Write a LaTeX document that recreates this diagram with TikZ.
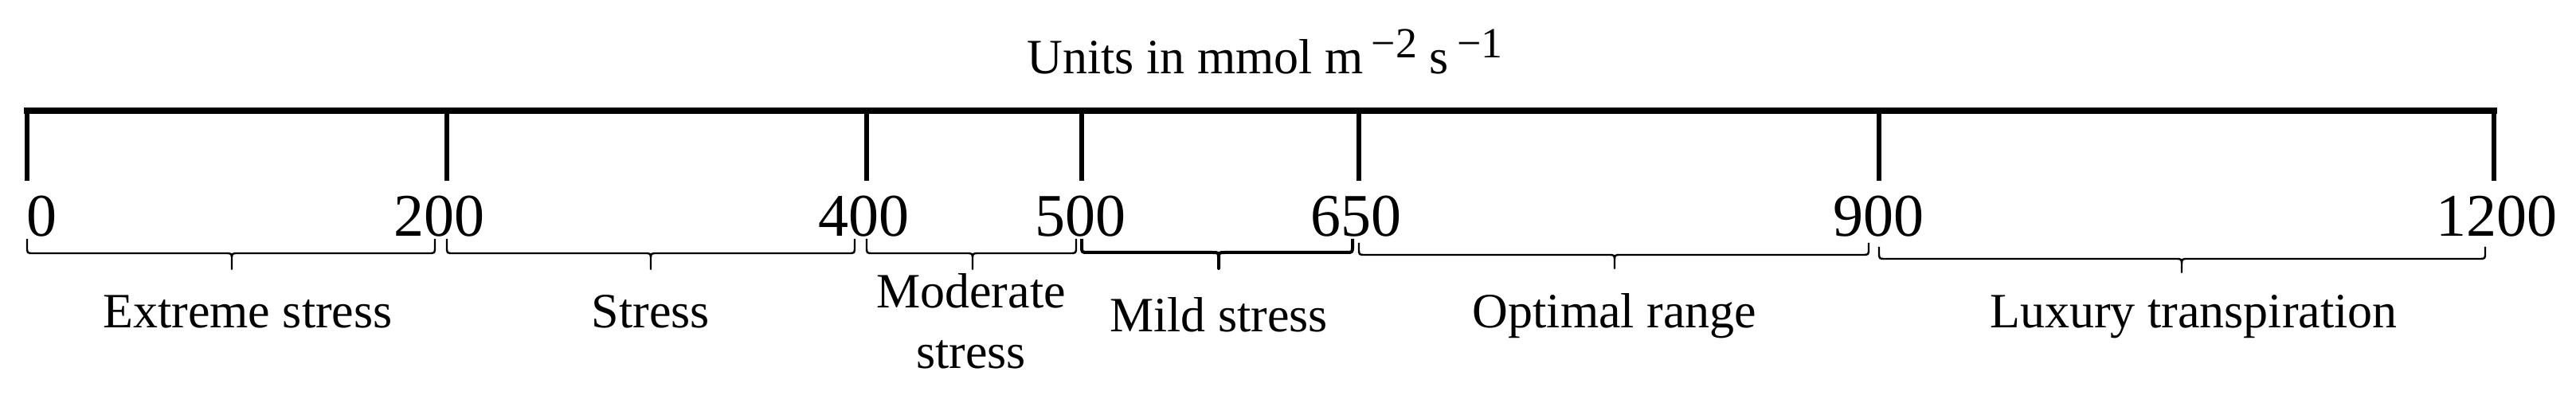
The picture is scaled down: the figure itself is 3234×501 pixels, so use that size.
\documentclass[tikz,border=0pt]{standalone}
\usepackage{fontspec}
\setmainfont{Liberation Serif}
\newcommand\scalebrace[7][]{%
  \draw[brc,#1] (#2,#5) -- (#2,#6-8) .. controls (#2,#6) .. (#2+8,#6)
    -- (#4-8,#6) .. controls (#4,#6) .. (#4,#6+8) -- (#4,#7)
    -- (#4,#6+8) .. controls (#4,#6) .. (#4+8,#6)
    -- (#3-8,#6) .. controls (#3,#6) .. (#3,#6-8) -- (#3,#5);}
\newcommand\bigsup[1]{\raisebox{5pt}{\fontsize{13.5}{14}\selectfont #1}}
\begin{document}
\begin{tikzpicture}[x=0.25pt,y=-0.25pt,
  bar/.style={line width=2pt},
  tickline/.style={line width=1.5pt},
  num/.style={font=\fontsize{19}{22}\selectfont, inner sep=0pt, anchor=base},
  lab/.style={font=\fontsize{15.5}{19}\selectfont, inner sep=0pt, anchor=base, align=center},
  brc/.style={line width=0.6pt, line join=round}]
\useasboundingbox (0,0) rectangle (3234,501);
% title
\node[lab] (title) at (1588,93) {Units in mmol m\,\bigsup{−2} s\,\bigsup{−1}};
% bar and ticks
\coordinate (t0) at (34,139);
\coordinate (t200) at (561,139);
\coordinate (t400) at (1088,139);
\coordinate (t500) at (1358,139);
\coordinate (t650) at (1706,139);
\coordinate (t900) at (2359,139);
\coordinate (t1200) at (3131,139);
\draw[bar] (30,139) -- (3135,139);
\foreach \t in {t0,t200,t400,t500,t650,t900,t1200}
  \draw[tickline] (\t) -- ++(0,88);
% numbers
\node[num, anchor=base west] (n0) at (33,297) {0};
\node[num] (n200) at (551,297) {200};
\node[num] (n400) at (1084,297) {400};
\node[num] (n500) at (1356,297) {500};
\node[num] (n650) at (1702,297) {650};
\node[num] (n900) at (2358,297) {900};
\node[num] (n1200) at (3134,297) {1200};
% braces
\scalebrace{34}{546}{291}{300}{318}{338}
\scalebrace{561}{1073}{817}{300}{318}{338}
\scalebrace{1088}{1351}{1221}{300}{318}{338}
\scalebrace[line width=1pt]{1358}{1698}{1530}{300}{317}{337}
\scalebrace{1706}{2346}{2027}{305}{320}{337}
\scalebrace{2359}{3120}{2739}{310}{325}{342}
% labels
\node[lab] (l1) at (311,412) {Extreme stress};
\node[lab] (l2) at (817,412) {Stress};
\node[lab] (l3) at (1219,463) {Moderate\\stress};
\node[lab] (l4) at (1530,417) {Mild stress};
\node[lab] (l5) at (2027,412) {Optimal range};
\node[lab] (l6) at (2754,412) {Luxury transpiration};
\end{tikzpicture}
\end{document}
